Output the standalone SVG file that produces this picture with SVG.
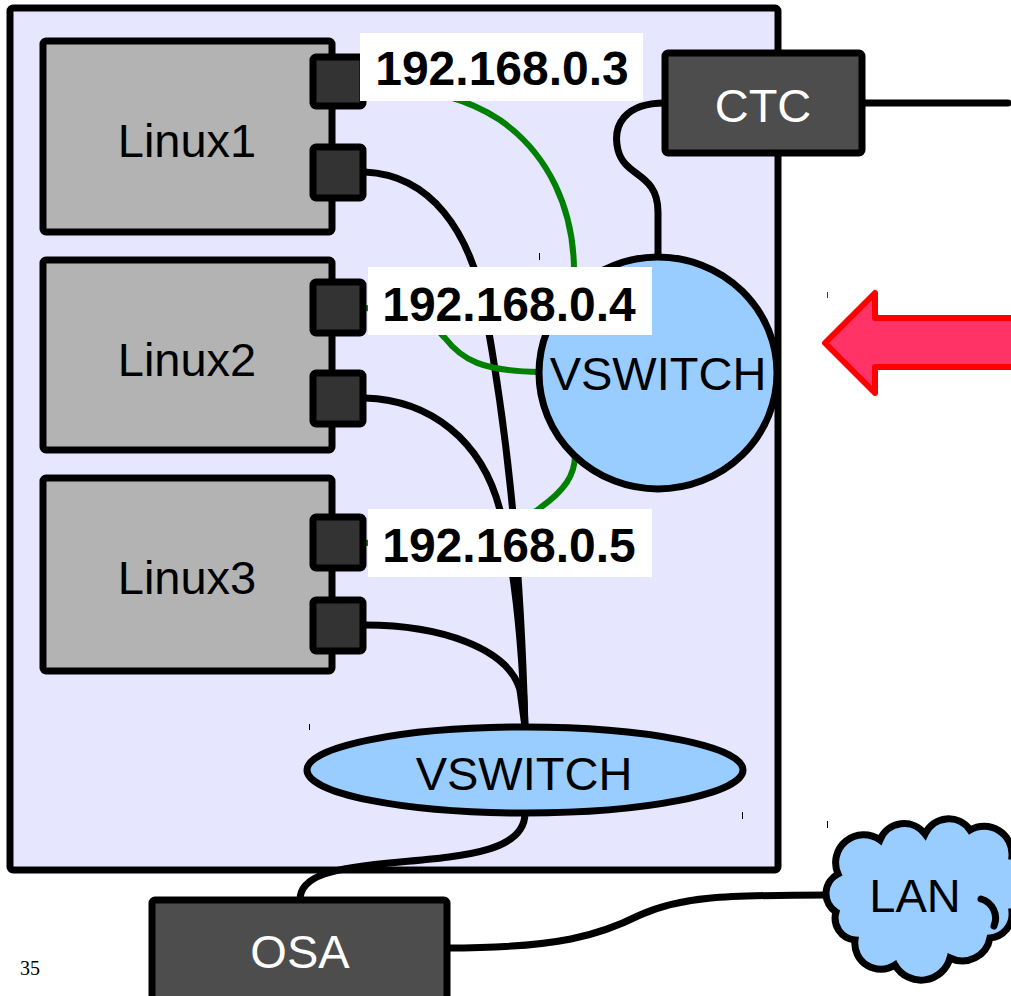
<svg xmlns="http://www.w3.org/2000/svg" width="1011" height="996" viewBox="0 0 1011 996">
<style>
.lnx{fill:#b3b3b3;stroke:#000;stroke-width:7;}
.port{fill:#333;stroke:#000;stroke-width:7;}
.dark{fill:#4d4d4d;stroke:#000;stroke-width:7;}
.sw{fill:#99ccff;stroke:#000;stroke-width:7;}
.blk{fill:none;stroke:#000;stroke-width:7;stroke-linecap:round;}
.grn{fill:none;stroke:#008000;stroke-width:6;}
.t{font-family:"Liberation Sans",Arial,sans-serif;font-size:47px;text-anchor:middle;fill:#000;}
.w{fill:#fff;}
.ip{font-family:"Liberation Sans",Arial,sans-serif;font-size:48px;font-weight:bold;text-anchor:middle;fill:#000;}
.tick{stroke:#000;stroke-width:1;}
</style>
<rect width="1011" height="996" fill="#fff"/>
<g id="container">
<rect x="10" y="8" width="768" height="862" rx="3" fill="#e6e6ff" stroke="#000" stroke-width="7"/>
</g>
<g id="connectors">
<path class="blk" d="M665,103 C625,103 612,125 618,150 C625,178 658,172 658,212 L658,258"/>
<path class="blk" d="M862,103 L1008,103"/>
<path class="blk" d="M365,172 C430,175 470,230 485,310 C505,420 520,540 525,727"/>
<path class="blk" d="M365,398 C430,400 482,440 500,510 C514,565 522,640 525,727"/>
<path class="blk" d="M365,625 C440,625 508,648 520,690 L525,727"/>
<path class="blk" d="M525,813 C525,850 470,856 400,862 C330,868 300,876 300,900"/>
<path class="blk" d="M447,948 C560,948 600,935 640,915 C680,897 720,895 830,895"/>
<path class="grn" d="M363,82 C430,88 470,100 500,120 C550,155 573,210 574,268"/>
<path class="grn" d="M363,308 C400,308 430,320 445,338 C462,360 482,371 540,372"/>
<path class="grn" d="M363,543 C450,540 520,525 540,508 C565,490 575,475 575,455"/>
</g>
<g id="linux1">
<rect class="lnx" x="43" y="41" width="289" height="191" rx="3"/>
<rect class="port" x="313" y="57" width="50" height="49" rx="3"/>
<rect class="port" x="313" y="147" width="50" height="51" rx="3"/>
<text class="t" x="187" y="157">Linux1</text>
</g>
<g id="linux2">
<rect class="lnx" x="43" y="260" width="289" height="190" rx="3"/>
<rect class="port" x="313" y="282" width="50" height="51" rx="3"/>
<rect class="port" x="313" y="373" width="50" height="51" rx="3"/>
<text class="t" x="187" y="376">Linux2</text>
</g>
<g id="linux3">
<rect class="lnx" x="43" y="478" width="289" height="193" rx="3"/>
<rect class="port" x="313" y="517" width="50" height="51" rx="3"/>
<rect class="port" x="313" y="600" width="50" height="51" rx="3"/>
<text class="t" x="187" y="594">Linux3</text>
</g>
<g id="ctc">
<rect class="dark" x="665" y="53" width="197" height="100" rx="3"/>
<text class="t w" x="763" y="122">CTC</text>
</g>
<g id="vswitch-circle">
<ellipse class="sw" cx="658" cy="373" rx="119" ry="116"/>
<text class="t" x="658" y="390">VSWITCH</text>
</g>
<g id="vswitch-ellipse">
<ellipse class="sw" cx="525" cy="770" rx="218" ry="43"/>
<text class="t" x="524" y="790">VSWITCH</text>
</g>
<g id="ip3">
<rect x="360" y="33" width="283" height="68" fill="#fff"/>
<text class="ip" x="502" y="85">192.168.0.3</text>
</g>
<g id="ip4">
<rect x="368" y="267" width="284" height="68" fill="#fff"/>
<text class="ip" x="509" y="321">192.168.0.4</text>
</g>
<g id="ip5">
<rect x="368" y="509" width="284" height="68" fill="#fff"/>
<text class="ip" x="509" y="562">192.168.0.5</text>
</g>
<g id="osa">
<rect class="dark" x="152" y="900" width="295" height="110" rx="3"/>
<text class="t w" x="300" y="968">OSA</text>
</g>
<g id="lan">
<path class="sw" d="M836,912 A22,22 0 0,1 838,874 A28,28 0 0,1 880,840 A26,26 0 0,1 925,834 A26,26 0 0,1 970,830 A28,28 0 0,1 1012,856 L1030,856 L1030,912 L1012,912 A24,24 0 0,1 990,938 A28,28 0 0,1 950,958 A30,30 0 0,1 895,965 A26,26 0 0,1 855,940 A22,22 0 0,1 836,912 Z"/>
<path class="blk" d="M981,899 A20,20 0 0,1 994,926"/>
<text class="t" x="915" y="912">LAN</text>
</g>
<g id="arrow">
<path d="M825,343 L875,293 L875,318 L1020,318 L1020,367 L875,367 L875,393 Z" fill="#ff3366" stroke="#ff0000" stroke-width="6" stroke-linejoin="round"/>
</g>
<g id="ticks">
<line class="tick" x1="539.5" y1="253" x2="539.5" y2="260"/>
<line x1="827.5" y1="292" x2="827.5" y2="298" stroke="#cc0000" stroke-width="1"/>
<line class="tick" x1="827.5" y1="821" x2="827.5" y2="828"/>
<line class="tick" x1="309.5" y1="724" x2="309.5" y2="730"/>
<line class="tick" x1="742.5" y1="812" x2="742.5" y2="819"/>
</g>
<text x="20" y="975" font-family="Liberation Serif, Times New Roman, serif" font-size="20" fill="#000">35</text>
</svg>
